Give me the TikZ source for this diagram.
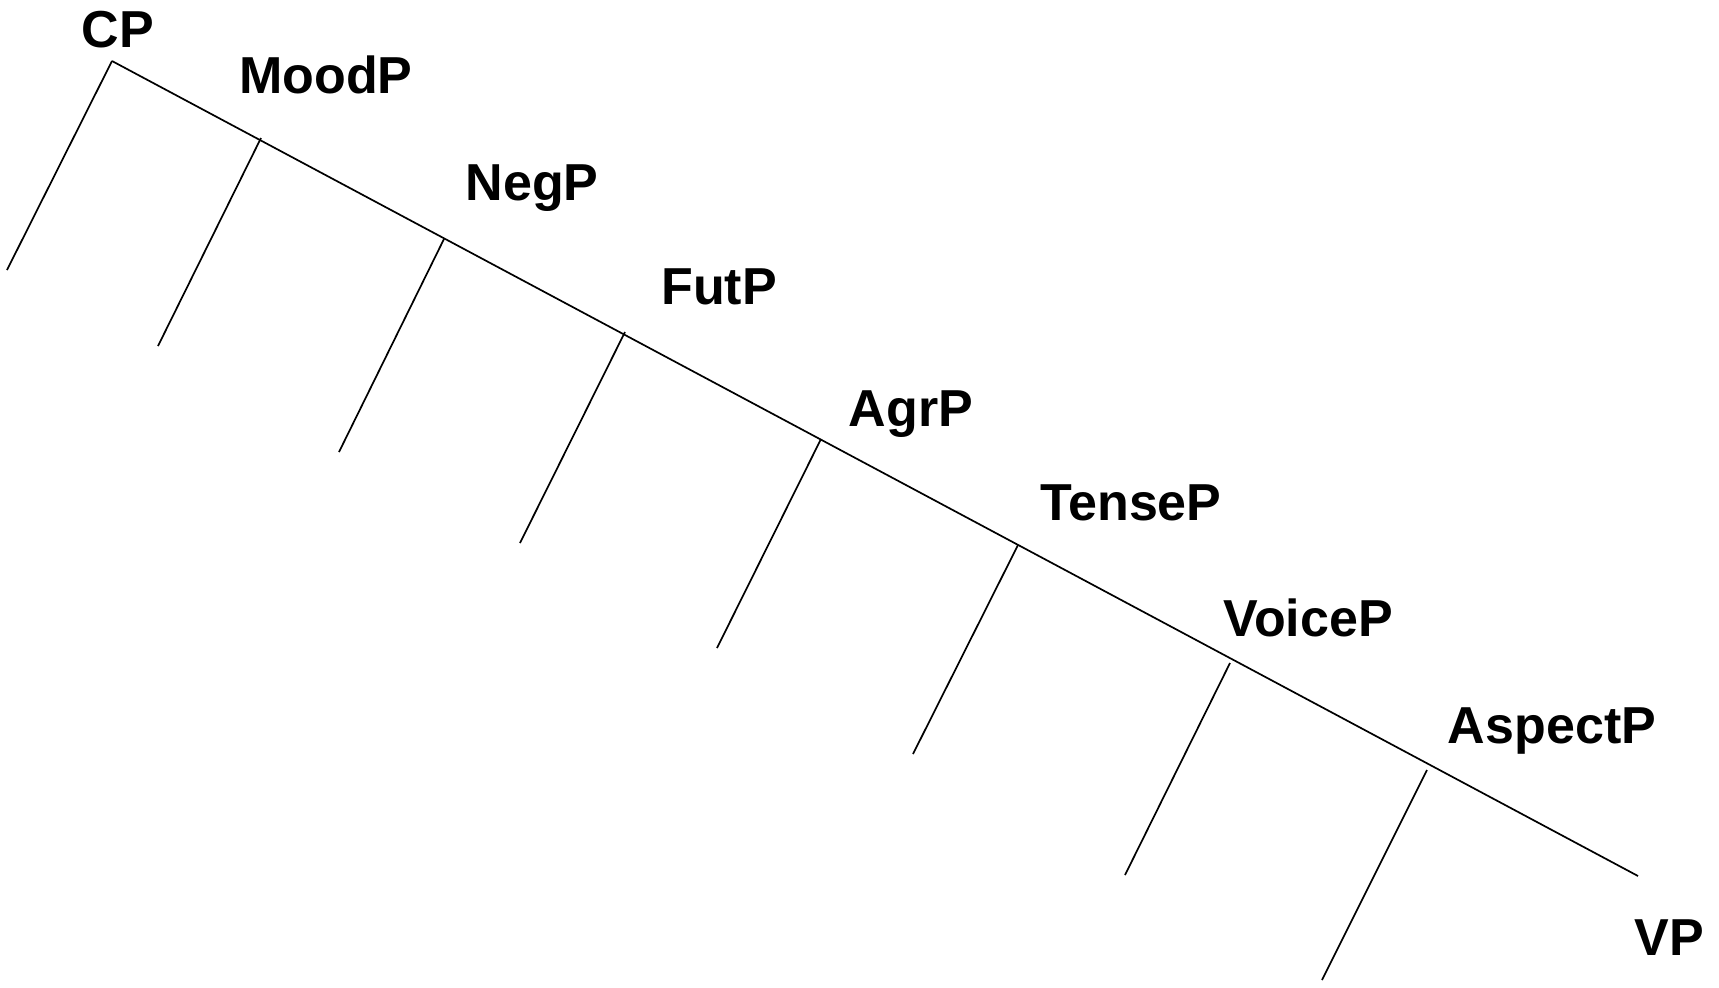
\documentclass[tikz,border=0pt]{standalone}
\usepackage{fontspec}
\setmainfont{Liberation Sans}
\begin{document}
\begin{tikzpicture}[x=1pt,y=-1pt,
  lbl/.style={font=\fontsize{52}{60}\selectfont\bfseries, inner sep=0pt, anchor=base},
  edge/.style={line width=1.7pt, black}]
\useasboundingbox (0,0) rectangle (1719,988);
% junctions on the spine
\coordinate (j1) at (112,61);
\coordinate (j2) at (261,138);
\coordinate (j3) at (444,239);
\coordinate (j4) at (625,332);
\coordinate (j5) at (821,439);
\coordinate (j6) at (1018,545);
\coordinate (j7) at (1230,663);
\coordinate (j8) at (1427,770);
\coordinate (end) at (1638,876);
% branch ends
\coordinate (b1) at (7,270);
\coordinate (b2) at (158,346);
\coordinate (b3) at (339,452);
\coordinate (b4) at (520,543);
\coordinate (b5) at (717,648);
\coordinate (b6) at (913,754);
\coordinate (b7) at (1125,875);
\coordinate (b8) at (1322,980);
% spine
\draw[edge] (j1) -- (end);
% branches
\foreach \i in {1,...,8} \draw[edge] (j\i) -- (b\i);
% labels
\node[lbl] (cp) at (118,47) {CP};
\node[lbl] (mood) at (326,93) {MoodP};
\node[lbl] (neg) at (532,200) {NegP};
\node[lbl] (fut) at (719,304) {FutP};
\node[lbl] (agr) at (911,426) {AgrP};
\node[lbl] (tense) at (1131,520) {TenseP};
\node[lbl] (voice) at (1308,636) {VoiceP};
\node[lbl] (aspect) at (1552,743) {AspectP};
\node[lbl] (vp) at (1669,955) {VP};
\end{tikzpicture}
\end{document}
